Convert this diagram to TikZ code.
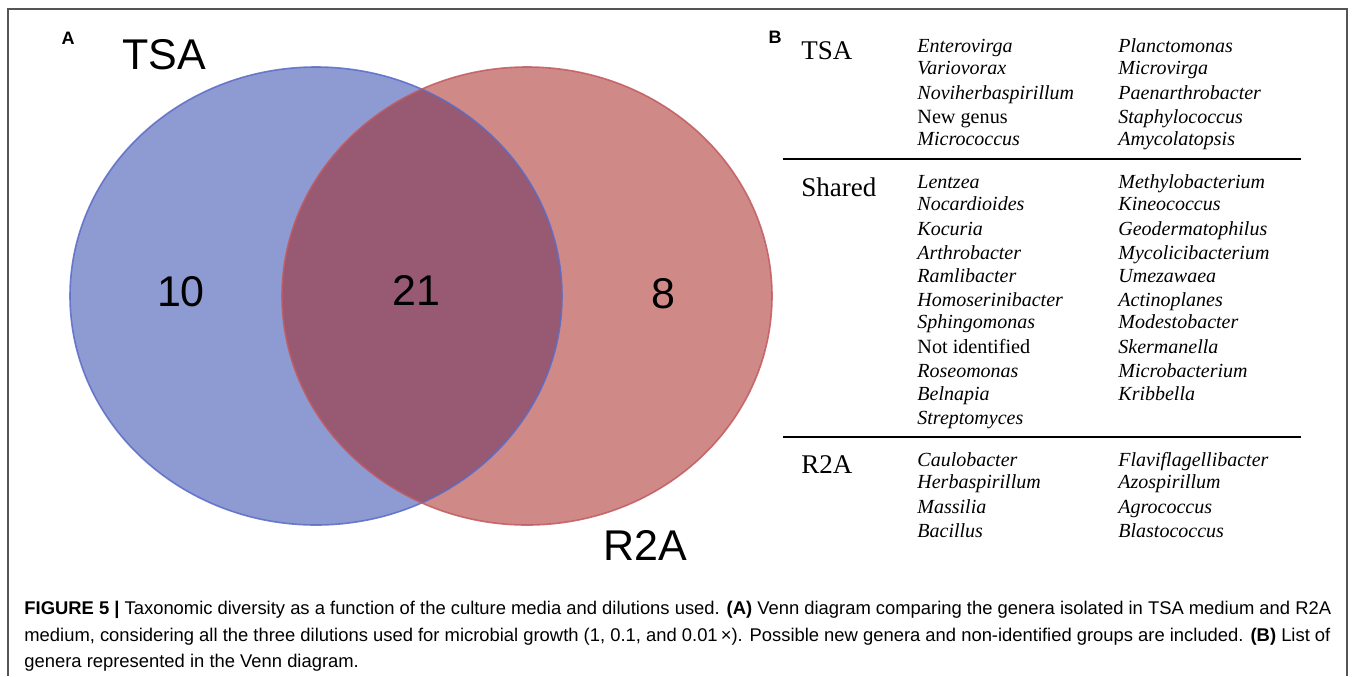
\documentclass[tikz,border=0pt]{standalone}
\usepackage{fontspec}
\setmainfont{Liberation Serif}
\newfontfamily\sansf{Liberation Sans}
\newfontfamily\capf{Liberation Sans}
\definecolor{blueFill}{HTML}{8E9AD2}
\definecolor{redFill}{HTML}{CF8A88}
\definecolor{overFill}{HTML}{985A73}
\definecolor{blueLine}{HTML}{5A6BC8}
\definecolor{redLine}{HTML}{C25A60}
\definecolor{frameGray}{HTML}{555555}
\begin{document}
\begin{tikzpicture}[x=0.5pt,y=-0.5pt,
  venn/.style={font=\sansf\fontsize{21.5}{24}\selectfont, inner sep=0pt},
  panel/.style={font=\sansf\bfseries\fontsize{9}{10}\selectfont, inner sep=0pt},
  hdr/.style={font=\fontsize{13.5}{15}\selectfont, inner sep=0pt, anchor=base west},
  gen/.style={font=\itshape\fontsize{10}{12}\selectfont, inner sep=0pt, anchor=base west},
  genup/.style={font=\fontsize{10.1}{12}\selectfont, inner sep=0pt, anchor=base west},
  captext/.style={font=\capf\fontsize{9.2}{10}\selectfont, inner sep=0pt, anchor=base west},
  rulel/.style={line width=1pt, black}]
\useasboundingbox (0,0) rectangle (1358,676);
\fill[white] (0,0) rectangle (1358,676);
% frame
\draw[frameGray, line width=0.8pt] (8,676) -- (8,9) -- (1347,9) -- (1347,676);
% Venn
\fill[blueFill] (316,296) ellipse [x radius=246, y radius=229];
\fill[redFill] (527,296) ellipse [x radius=245, y radius=229];
\begin{scope}
  \clip (316,296) ellipse [x radius=246, y radius=229];
  \fill[overFill] (527,296) ellipse [x radius=245, y radius=229];
\end{scope}
\draw[blueLine, line width=0.8pt, opacity=0.85] (316,296) ellipse [x radius=246, y radius=229];
\draw[redLine, line width=0.8pt, opacity=0.85] (527,296) ellipse [x radius=245, y radius=229];
\node[panel] (pa) at (68,38) {A};
\node[panel] (pb) at (775,37) {B};
\node[venn] (tsa) at (164,55) {TSA};
\node[venn] (r2a) at (645,545) {R2A};
\node[venn] (n10) at (181,292) {10};
\node[venn] (n21) at (416,290) {21};
\node[venn] (n8) at (663,294) {8};
% Table
\node[hdr] (h1) at (801,59) {TSA};
\node[hdr] (h2) at (801,196) {Shared};
\node[hdr] (h3) at (801,473) {R2A};
\draw[rulel] (783,159) -- (1301,159);
\draw[rulel] (783,437) -- (1301,437);
% TSA genera
\node[gen] (t1) at (917,52) {Enterovirga};
\node[gen] (t2) at (917,74) {Variovorax};
\node[gen] (t3) at (917,99) {Noviherbaspirillum};
\node[genup] (t4) at (917,123) {New genus};
\node[gen] (t5) at (917,145) {Micrococcus};
\node[gen] (t6) at (1118,52) {Planctomonas};
\node[gen] (t7) at (1118,74) {Microvirga};
\node[gen] (t8) at (1118,99) {Paenarthrobacter};
\node[gen] (t9) at (1118,123) {Staphylococcus};
\node[gen] (t10) at (1118,145) {Amycolatopsis};
% Shared
\node[gen] (s1) at (917,188) {Lentzea};
\node[gen] (s2) at (917,210) {Nocardioides};
\node[gen] (s3) at (917,235) {Kocuria};
\node[gen] (s4) at (917,259) {Arthrobacter};
\node[gen] (s5) at (917,282) {Ramlibacter};
\node[gen] (s6) at (917,306) {Homoserinibacter};
\node[gen] (s7) at (917,328) {Sphingomonas};
\node[genup] (s8) at (917,353) {Not identified};
\node[gen] (s9) at (917,377) {Roseomonas};
\node[gen] (s10) at (917,400) {Belnapia};
\node[gen] (s11) at (917,424) {Streptomyces};
\node[gen] (s12) at (1118,188) {Methylobacterium};
\node[gen] (s13) at (1118,210) {Kineococcus};
\node[gen] (s14) at (1118,235) {Geodermatophilus};
\node[gen] (s15) at (1118,259) {Mycolicibacterium};
\node[gen] (s16) at (1118,282) {Umezawaea};
\node[gen] (s17) at (1118,306) {Actinoplanes};
\node[gen] (s18) at (1118,328) {Modestobacter};
\node[gen] (s19) at (1118,353) {Skermanella};
\node[gen] (s20) at (1118,377) {Microbacterium};
\node[gen] (s21) at (1118,400) {Kribbella};
% R2A
\node[gen] (r1) at (917,466) {Caulobacter};
\node[gen] (r2) at (917,488) {Herbaspirillum};
\node[gen] (r3) at (917,513) {Massilia};
\node[gen] (r4) at (917,537) {Bacillus};
\node[gen] (r5) at (1118,466) {Flaviflagellibacter};
\node[gen] (r6) at (1118,488) {Azospirillum};
\node[gen] (r7) at (1118,513) {Agrococcus};
\node[gen] (r8) at (1118,537) {Blastococcus};
% Caption
\node[captext] (c1) at (24,614) {\textbf{FIGURE 5 |} Taxonomic diversity as a function of the culture media and dilutions used. \textbf{(A)} Venn diagram comparing the genera isolated in TSA medium and R2A};
\node[captext] (c2) at (24,641) {medium, considering all the three dilutions used for microbial growth (1, 0.1, and 0.01\,×). Possible new genera and non-identified groups are included. \textbf{(B)} List of};
\node[captext] (c3) at (24,667) {genera represented in the Venn diagram.};
\end{tikzpicture}
\end{document}
